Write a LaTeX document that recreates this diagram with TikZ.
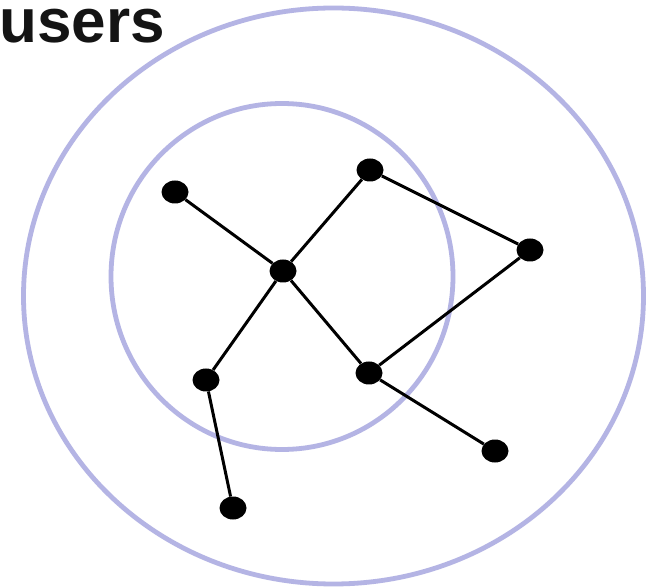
\documentclass[tikz,border=0pt]{standalone}
\usepackage{fontspec}
\setmainfont{Liberation Sans}
\usetikzlibrary{shapes.geometric}
\definecolor{ringc}{RGB}{180,180,228}
\begin{document}
\begin{tikzpicture}[x=1pt,y=-1pt,
  dot/.style={ellipse,fill=black,draw=none,minimum width=27pt,minimum height=23pt,inner sep=0pt},
  ring/.style={draw=ringc,line width=4.8pt},
  edge/.style={draw=black,line width=3pt},
  title/.style={anchor=base west,inner sep=0pt,text height=34pt,text depth=0pt,text=black!92,font=\bfseries\fontsize{62}{62}\selectfont}]
\useasboundingbox (0,0) rectangle (646,588);
\clip (0,0) rectangle (646,588);
\fill[white] (0,0) rectangle (646,588);
% rings
\draw[ring] (333.5,296) ellipse [x radius=310, y radius=288];
\draw[ring] (282,276.5) ellipse [x radius=171, y radius=173];
% title
\node[title] (users) at (-1,43) {users};
% nodes
\node[dot] (a) at (175,192) {};
\node[dot] (c) at (283,271) {};
\node[dot] (t) at (370,170) {};
\node[dot] (r) at (530,250) {};
\node[dot] (l) at (369,373) {};
\node[dot] (bl) at (206,380) {};
\node[dot] (b) at (233,508) {};
\node[dot] (br) at (495,451) {};
% edges
\draw[edge] (a) -- (c);
\draw[edge] (c) -- (t);
\draw[edge] (t) -- (r);
\draw[edge] (r) -- (l);
\draw[edge] (c) -- (l);
\draw[edge] (c) -- (bl);
\draw[edge] (bl) -- (b);
\draw[edge] (l) -- (br);
\end{tikzpicture}
\end{document}
